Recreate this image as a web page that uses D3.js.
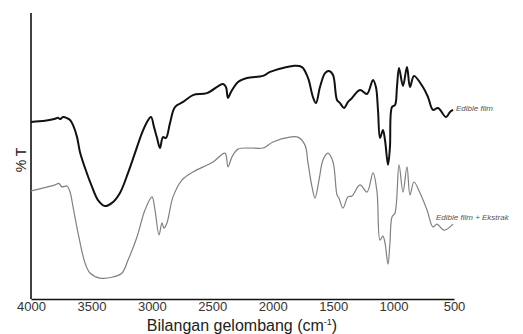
<!DOCTYPE html>
<html>
<head>
<meta charset="utf-8">
<script src="https://cdn.jsdelivr.net/npm/d3@7"></script>
<style>
  html, body { margin: 0; padding: 0; background: #fff; }
  svg { display: block; }
  text { font-family: "Liberation Sans", Arial, sans-serif; }
</style>
</head>
<body>
<svg id="chart" width="523" height="334"></svg>
<script>
// Wavenumber (cm-1) and %T (arbitrary units)
const edibleFilmWn = [4000,3884,3800,3777,3760,3735,3700,3677,3652,3619,3595,3553,3495,3446,3388,3330,3264,3197,3140,3082,3040,3007,2982,2957,2933,2908,2883,2850,2809,2742,2660,2544,2411,2387,2370,2345,2287,2213,2080,2022,1915,1832,1758,1708,1667,1642,1609,1567,1534,1501,1468,1443,1410,1377,1344,1278,1220,1170,1146,1129,1112,1088,1071,1046,1030,1013,988,972,955,922,889,864,831,757,715,674,632,566,533,508];
const edibleFilmT  = [61.9,62.3,63.0,63.4,62.9,63.6,63.2,62.6,60.8,56.6,51.4,45.8,39.2,34.6,32.5,33.6,37.1,44.1,51.0,58.0,61.9,63.6,60.1,56.3,52.8,56.6,56.3,61.5,67.1,68.9,71.3,72.0,75.2,74.1,70.3,72.4,75.9,77.3,78.0,79.4,80.8,81.5,81.1,77.3,70.6,68.5,74.1,79.0,79.7,78.3,69.6,68.5,66.8,68.9,70.3,73.1,71.7,76.6,74.1,66.1,56.3,59.1,55.6,46.9,53.1,67.1,67.8,74.1,80.8,74.5,81.1,74.1,78.0,74.1,70.6,66.1,66.8,63.6,65.4,66.1];

const ekstrakWn = [4000,3801,3770,3743,3702,3677,3652,3611,3553,3512,3429,3322,3247,3197,3123,3057,2999,2974,2941,2916,2900,2875,2825,2751,2660,2494,2395,2370,2337,2287,2188,2080,1998,1857,1791,1733,1708,1675,1650,1617,1584,1543,1501,1468,1452,1419,1377,1344,1278,1220,1170,1137,1112,1088,1071,1046,1030,1013,988,955,922,889,864,831,781,723,674,641,583,508];
const ekstrakT  = [37.8,39.9,40.4,39.2,39.5,37.4,32.2,23.1,12.6,9.1,7.3,7.7,9.1,13.6,21.7,31.1,35.7,31.1,22.4,26.6,24.8,26.6,35.7,41.6,44.4,47.9,51.0,46.2,49.7,52.4,52.8,52.8,54.9,56.6,56.6,53.8,47.6,39.2,35.3,41.6,48.6,51.0,47.9,36.4,35.3,31.8,35.7,36.0,39.9,37.4,44.1,37.4,20.6,22.0,19.6,12.2,19.6,28.7,30.1,46.9,37.4,46.2,36.4,40.9,37.1,31.1,25.2,26.2,24.1,26.2];

const xTicks = [4000,3500,3000,2500,2000,1500,1000,500];
const seriesLabels = ["Edible film", "Edible film + Ekstrak"];
const xTitle = "Bilangan gelombang (cm";
const yTitle = "% T";

const svg = d3.select("#chart");
const x = d3.scaleLinear().domain([4000, 500]).range([31, 454]);
const y = d3.scaleLinear().domain([0, 100]).range([299, 13]);

// axes
svg.append("line").attr("x1", x(4000)).attr("x2", x(4000))
  .attr("y1", y(100)).attr("y2", y(0)).attr("stroke", "#111").attr("stroke-width", 1.6);

const xAxis = d3.axisBottom(x).tickValues(xTicks).tickSize(0).tickPadding(3).tickFormat(d3.format("d"));
const gx = svg.append("g").attr("transform", `translate(0,${y(0)})`).call(xAxis);
gx.select(".domain").attr("stroke", "#111").attr("stroke-width", 1.6);
gx.selectAll("text").attr("font-size", 13).attr("fill", "#333")
  .attr("font-family", "'Liberation Sans', Arial, sans-serif");

// lines
const line = d3.line().x(d => x(d[0])).y(d => y(d[1])).curve(d3.curveCatmullRom.alpha(0.5));
const blackData = edibleFilmWn.map((w, i) => [w, edibleFilmT[i]]);
const grayData = ekstrakWn.map((w, i) => [w, ekstrakT[i]]);

svg.append("path").datum(grayData).attr("d", line)
  .attr("fill", "none").attr("stroke", "#808080").attr("stroke-width", 1.2);
svg.append("path").datum(blackData).attr("d", line)
  .attr("fill", "none").attr("stroke", "#111").attr("stroke-width", 2);

// series labels
svg.append("text").attr("x", x(500) + 2).attr("y", y(edibleFilmT[edibleFilmT.length - 1]) + 1)
  .attr("font-size", 8).attr("font-style", "italic").attr("fill", "#555").text(seriesLabels[0]);
svg.append("text").attr("x", 436).attr("y", 220)
  .attr("font-size", 8).attr("font-style", "italic").attr("fill", "#555").text(seriesLabels[1]);

// titles
const xt = svg.append("text").attr("x", 242).attr("y", 331).attr("text-anchor", "middle")
  .attr("font-size", 16).attr("fill", "#222");
xt.append("tspan").text(xTitle);
xt.append("tspan").attr("font-size", 9).attr("dy", -6).text("-1");
xt.append("tspan").attr("dy", 6).text(")");

svg.append("text").attr("transform", "translate(26,160) rotate(-90)").attr("text-anchor", "middle")
  .attr("font-size", 14).attr("fill", "#222").text(yTitle);
</script>
</body>
</html>
